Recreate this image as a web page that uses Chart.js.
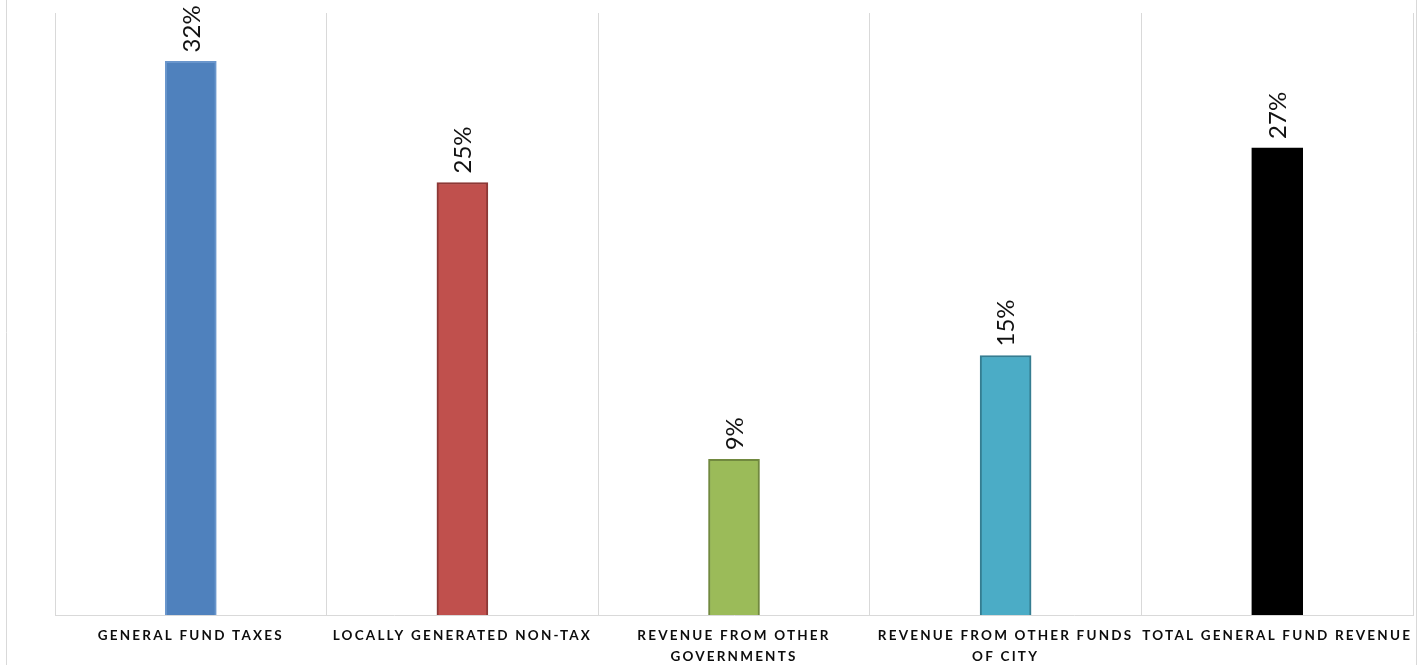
<!DOCTYPE html>
<html>
<head>
<meta charset="utf-8">
<script src="https://cdn.jsdelivr.net/npm/chart.js@4.4.1/dist/chart.umd.min.js"></script>
<style>
  html, body { margin: 0; padding: 0; background: #ffffff; }
  #wrap { width: 1424px; height: 665px; position: relative; }
</style>
</head>
<body>
<div id="wrap"><canvas id="chart"></canvas></div>
<script>
// Revenue growth by source, in percent
const categories = [
  ['GENERAL FUND TAXES'],
  ['LOCALLY GENERATED NON-TAX'],
  ['REVENUE FROM OTHER', 'GOVERNMENTS'],
  ['REVENUE FROM OTHER FUNDS', 'OF CITY'],
  ['TOTAL GENERAL FUND REVENUE']
];
const values = [32, 25, 9, 15, 27];
const valueLabels = ['32%', '25%', '9%', '15%', '27%'];
const fillColors = ['#4F81BD', '#C0504D', '#9BBB59', '#4BACC6', '#000000'];
const edgeColors = ['#6A96CC', '#8C3836', '#71893F', '#357D91', '#000000'];

// Spaced-out lettering for the category axis
const spacing = {
  id: 'spacing',
  beforeLayout(chart) { chart.ctx.letterSpacing = '2.2px'; },
  beforeDraw(chart) { chart.ctx.letterSpacing = '2.2px'; }
};

// Outer frame lines at both sides of the canvas
const frame = {
  id: 'frame',
  beforeDraw(chart) {
    const ctx = chart.ctx;
    ctx.save();
    ctx.strokeStyle = '#d9d9d9';
    ctx.lineWidth = 1;
    ctx.beginPath();
    ctx.moveTo(6.5, 0); ctx.lineTo(6.5, chart.height);
    ctx.moveTo(1416.5, 0); ctx.lineTo(1416.5, chart.height);
    ctx.stroke();
    ctx.restore();
  }
};

// Vertical value labels above each bar
const valueTags = {
  id: 'valueTags',
  afterDatasetsDraw(chart) {
    const ctx = chart.ctx;
    const meta = chart.getDatasetMeta(0);
    ctx.save();
    ctx.letterSpacing = '0px';
    ctx.font = '24px Lato';
    ctx.fillStyle = '#111111';
    ctx.textAlign = 'left';
    ctx.textBaseline = 'middle';
    meta.data.forEach((bar, i) => {
      ctx.save();
      ctx.translate(bar.x + 1, bar.y - 9);
      ctx.rotate(-Math.PI / 2);
      ctx.fillText(valueLabels[i], 0, 0);
      ctx.restore();
    });
    ctx.restore();
  }
};

new Chart(document.getElementById('chart'), {
  type: 'bar',
  data: {
    labels: categories,
    datasets: [{
      data: values,
      backgroundColor: fillColors,
      borderColor: edgeColors,
      borderWidth: 2,
      borderSkipped: 'bottom',
      barThickness: 51
    }]
  },
  options: {
    responsive: true,
    maintainAspectRatio: false,
    animation: false,
    devicePixelRatio: 1,
    layout: { padding: { left: 55, right: 11, top: 13, bottom: 0 } },
    plugins: {
      legend: { display: false },
      tooltip: { enabled: false }
    },
    scales: {
      x: {
        offset: true,
        grid: {
          offset: true,
          color: '#d9d9d9',
          lineWidth: 1,
          drawTicks: false
        },
        border: { display: true, color: '#d9d9d9', width: 1 },
        ticks: {
          color: '#0d0d0d',
          font: { family: 'Lato', size: 13.5, weight: 'bold', lineHeight: 1.55 },
          padding: 10,
          maxRotation: 0,
          autoSkip: false
        },
        afterFit(scale) { scale.height = 50; }
      },
      y: {
        display: false,
        min: 0,
        max: 34.8
      }
    }
  },
  plugins: [spacing, frame, valueTags]
});
</script>
</body>
</html>
